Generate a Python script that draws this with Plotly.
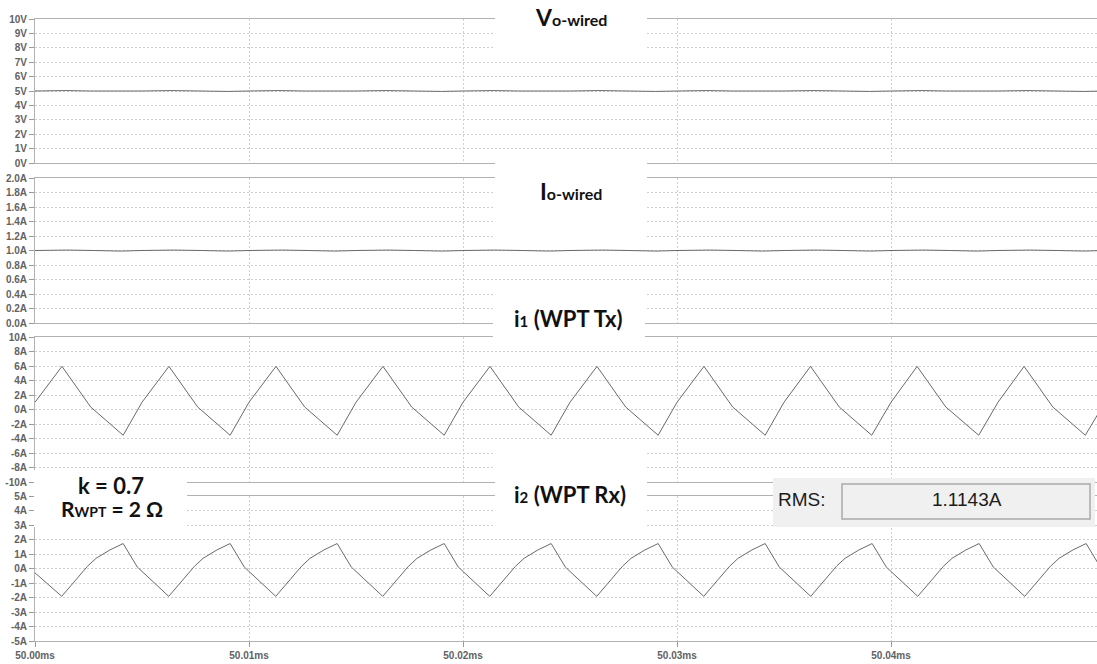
import plotly.graph_objects as go

# ---------------------------------------------------------------------------
# Waveform data (time in microseconds after 50.00 ms)
# ---------------------------------------------------------------------------
vo_t = [0.0, 1.4, 2.6, 4.0,
        5.0, 6.4, 7.6, 9.0,
        10.0, 11.4, 12.6, 14.0,
        15.0, 16.4, 17.6, 19.0,
        20.0, 21.4, 22.6, 24.0,
        25.0, 26.4, 27.6, 29.0,
        30.0, 31.4, 32.6, 34.0,
        35.0, 36.4, 37.6, 39.0,
        40.0, 41.4, 42.6, 44.0,
        45.0, 46.4, 47.6, 49.0,
        50.0]
vo_v = [5.00, 5.03, 5.00, 4.97,
        5.00, 5.03, 5.00, 4.97,
        5.00, 5.03, 5.00, 4.97,
        5.00, 5.03, 5.00, 4.97,
        5.00, 5.03, 5.00, 4.97,
        5.00, 5.03, 5.00, 4.97,
        5.00, 5.03, 5.00, 4.97,
        5.00, 5.03, 5.00, 4.97,
        5.00, 5.03, 5.00, 4.97,
        5.00, 5.03, 5.00, 4.97,
        5.00]

io_t = [0.0, 1.5, 2.8, 4.0,
        5.0, 6.5, 7.8, 9.0,
        10.0, 11.5, 12.8, 14.0,
        15.0, 16.5, 17.8, 19.0,
        20.0, 21.5, 22.8, 24.0,
        25.0, 26.5, 27.8, 29.0,
        30.0, 31.5, 32.8, 34.0,
        35.0, 36.5, 37.8, 39.0,
        40.0, 41.5, 42.8, 44.0,
        45.0, 46.5, 47.8, 49.0,
        50.0]
io_a = [1.000, 1.006, 1.000, 0.992,
        1.000, 1.006, 1.000, 0.992,
        1.000, 1.006, 1.000, 0.992,
        1.000, 1.006, 1.000, 0.992,
        1.000, 1.006, 1.000, 0.992,
        1.000, 1.006, 1.000, 0.992,
        1.000, 1.006, 1.000, 0.992,
        1.000, 1.006, 1.000, 0.992,
        1.000, 1.006, 1.000, 0.992,
        1.000, 1.006, 1.000, 0.992,
        1.000]

i1_t = [0.00,
        1.26, 2.60, 4.12, 5.00,
        6.26, 7.60, 9.12, 10.00,
        11.26, 12.60, 14.12, 15.00,
        16.26, 17.60, 19.12, 20.00,
        21.26, 22.60, 24.12, 25.00,
        26.26, 27.60, 29.12, 30.00,
        31.26, 32.60, 34.12, 35.00,
        36.24, 37.58, 39.10, 40.00,
        41.22, 42.56, 44.10, 45.00,
        46.22, 47.56, 49.08, 50.00]
i1_a = [1.00,
        5.95, 0.35, -3.55, 1.00,
        5.95, 0.35, -3.55, 1.00,
        5.95, 0.35, -3.55, 1.00,
        5.95, 0.35, -3.55, 1.00,
        5.95, 0.35, -3.55, 1.00,
        5.95, 0.35, -3.55, 1.00,
        5.95, 0.35, -3.55, 1.00,
        5.95, 0.35, -3.55, 1.00,
        5.95, 0.35, -3.55, 1.00,
        5.95, 0.35, -3.55, 1.00]

i2_t = [0.00,
        1.25, 2.45, 2.85, 3.50, 4.12, 4.78,
        6.25, 7.45, 7.85, 8.50, 9.12, 9.78,
        11.25, 12.45, 12.85, 13.50, 14.12, 14.78,
        16.25, 17.45, 17.85, 18.50, 19.12, 19.78,
        21.25, 22.45, 22.85, 23.50, 24.12, 24.78,
        26.25, 27.45, 27.85, 28.50, 29.12, 29.78,
        31.25, 32.45, 32.85, 33.50, 34.12, 34.78,
        36.25, 37.45, 37.85, 38.50, 39.12, 39.78,
        41.25, 42.45, 42.85, 43.50, 44.12, 44.78,
        46.25, 47.45, 47.85, 48.50, 49.12, 49.78]
i2_a = [-0.30,
        -1.92, 0.15, 0.70, 1.28, 1.72, 0.10,
        -1.92, 0.15, 0.70, 1.28, 1.72, 0.10,
        -1.92, 0.15, 0.70, 1.28, 1.72, 0.10,
        -1.92, 0.15, 0.70, 1.28, 1.72, 0.10,
        -1.92, 0.15, 0.70, 1.28, 1.72, 0.10,
        -1.92, 0.15, 0.70, 1.28, 1.72, 0.10,
        -1.92, 0.15, 0.70, 1.28, 1.72, 0.10,
        -1.92, 0.15, 0.70, 1.28, 1.72, 0.10,
        -1.92, 0.15, 0.70, 1.28, 1.72, 0.10,
        -1.92, 0.15, 0.70, 1.28, 1.72, 0.10]

# Axis ticks
x_tick_vals = [0, 10, 20, 30, 40]
x_tick_text = ["50.00ms", "50.01ms", "50.02ms", "50.03ms", "50.04ms"]

vo_tick_vals = [0, 1, 2, 3, 4, 5, 6, 7, 8, 9, 10]
vo_tick_text = ["0V", "1V", "2V", "3V", "4V", "5V", "6V", "7V", "8V", "9V", "10V"]

io_tick_vals = [0.0, 0.2, 0.4, 0.6, 0.8, 1.0, 1.2, 1.4, 1.6, 1.8, 2.0]
io_tick_text = ["0.0A", "0.2A", "0.4A", "0.6A", "0.8A", "1.0A",
                "1.2A", "1.4A", "1.6A", "1.8A", "2.0A"]

i1_tick_vals = [-10, -8, -6, -4, -2, 0, 2, 4, 6, 8, 10]
i1_tick_text = ["-10A", "-8A", "-6A", "-4A", "-2A", "0A",
                "2A", "4A", "6A", "8A", "10A"]

i2_tick_vals = [-5, -4, -3, -2, -1, 0, 1, 2, 3, 4, 5]
i2_tick_text = ["-5A", "-4A", "-3A", "-2A", "-1A", "0A",
                "1A", "2A", "3A", "4A", "5A"]

# ---------------------------------------------------------------------------
# Figure geometry
# ---------------------------------------------------------------------------
W, H = 1097, 664
ML, MR, MT, MB = 35, 0, 19, 23
PW, PH = W - ML - MR, H - MT - MB
X_END = PW / 21.4          # 21.4 px per microsecond


def px(xp):
    return (xp - ML) / PW


def py(yp):
    return (H - MB - yp) / PH


# pane pixel extents (top, bottom)
panes = [(19, 163), (178, 323), (337, 482), (496, 641)]

TRACE = dict(color="#6a6a6a", width=1)
GRID = "#cfcfcf"
LINE = "#b2b2b2"
TICKFONT = dict(family="Liberation Sans, Arial, sans-serif", size=10,
                color="#626262", weight="bold")

fig = go.Figure()
series = [(vo_t, vo_v), (io_t, io_a), (i1_t, i1_a), (i2_t, i2_a)]
for i, (t, v) in enumerate(series, start=1):
    suffix = "" if i == 1 else str(i)
    fig.add_trace(go.Scatter(x=t, y=v, mode="lines", line=TRACE,
                             xaxis="x" + suffix, yaxis="y" + suffix,
                             hoverinfo="skip", showlegend=False))

y_specs = [
    ([0, 10], vo_tick_vals, vo_tick_text),
    ([0, 2], io_tick_vals, io_tick_text),
    ([-10, 10], i1_tick_vals, i1_tick_text),
    ([-5, 5], i2_tick_vals, i2_tick_text),
]

layout = dict(
    width=W, height=H,
    margin=dict(l=ML, r=MR, t=MT, b=MB, pad=0),
    paper_bgcolor="white", plot_bgcolor="white",
    showlegend=False,
)

for i, ((top, bot), (yr, tv, tt)) in enumerate(zip(panes, y_specs), start=1):
    suffix = "" if i == 1 else str(i)
    last = i == 4
    layout["xaxis" + suffix] = dict(
        domain=[0, 1], anchor="y" + suffix, range=[0, X_END],
        tickvals=x_tick_vals, ticktext=x_tick_text,
        showticklabels=last, ticks="outside" if last else "",
        ticklen=5, tickcolor="#9a9a9a", tickfont=TICKFONT,
        showline=True, mirror=True, linecolor=LINE, linewidth=1,
        showgrid=True, gridcolor=GRID, griddash="2px,2px", gridwidth=1,
        zeroline=False, fixedrange=True,
        **({} if i == 1 else {"matches": "x"}),
    )
    layout["yaxis" + suffix] = dict(
        domain=[py(bot), py(top)], anchor="x" + suffix, range=yr,
        tickvals=tv, ticktext=tt, ticks="outside", ticklen=5,
        tickcolor="#9a9a9a", tickfont=TICKFONT,
        showline=True, linecolor=LINE, linewidth=1,
        showgrid=True, gridcolor=GRID, griddash="2px,2px", gridwidth=1,
        zeroline=False, fixedrange=True,
    )

fig.update_layout(**layout)

# ---------------------------------------------------------------------------
# Label boxes and annotations
# ---------------------------------------------------------------------------
def box(x0, y0, x1, y1, fill="white", line=None):
    fig.add_shape(type="rect", xref="paper", yref="paper",
                  x0=px(x0), x1=px(x1), y0=py(y1), y1=py(y0),
                  fillcolor=fill, layer="above",
                  line=dict(width=0) if line is None else line)


box(495, 0, 647, 56)        # Vo-wired
box(495, 150, 647, 245)     # Io-wired
box(493, 285, 645, 345)     # i1
box(495, 445, 647, 530)     # i2
box(34, 470, 187, 527)      # k / R
box(773, 478, 1095, 527, fill="#f0f0f0")
box(842, 484, 1090, 519, fill="#f0f0f0",
    line=dict(color="#a9a9a9", width=1.5))

LABEL_FONT = dict(family="Lato, Open Sans, sans-serif", size=17, color="#111111")


def label(xc, yc, text, size=17, family=None, color="#111111"):
    font = dict(LABEL_FONT, size=size, color=color)
    if family:
        font["family"] = family
    fig.add_annotation(x=px(xc), y=py(yc), xref="paper", yref="paper",
                       text=text, showarrow=False, font=font,
                       xanchor="center", yanchor="middle")


label(571, 17, "<b><span style='font-size:23px'>V</span>o-wired</b>", size=16)
label(571, 191, "<b><span style='font-size:23px'>I</span>o-wired</b>", size=16)
label(568, 318, "<b>i<span style='font-size:15px'>1</span> (WPT Tx)</b>", size=22)
label(570, 494, "<b>i<span style='font-size:15px'>2</span> (WPT Rx)</b>", size=22)
label(111, 485, "<b>k = 0.7</b>", size=22)
label(112, 508, "<b>R<span style='font-size:14px'>WPT</span> = 2 Ω</b>", size=21)
label(802, 500, "RMS:", size=19, family="Liberation Sans, Arial, sans-serif",
      color="#1c1c1c")
label(967, 499, "1.1143A", size=19, family="Liberation Sans, Arial, sans-serif",
      color="#1c1c1c")

fig.write_html("out.html", config={"displayModeBar": False})
